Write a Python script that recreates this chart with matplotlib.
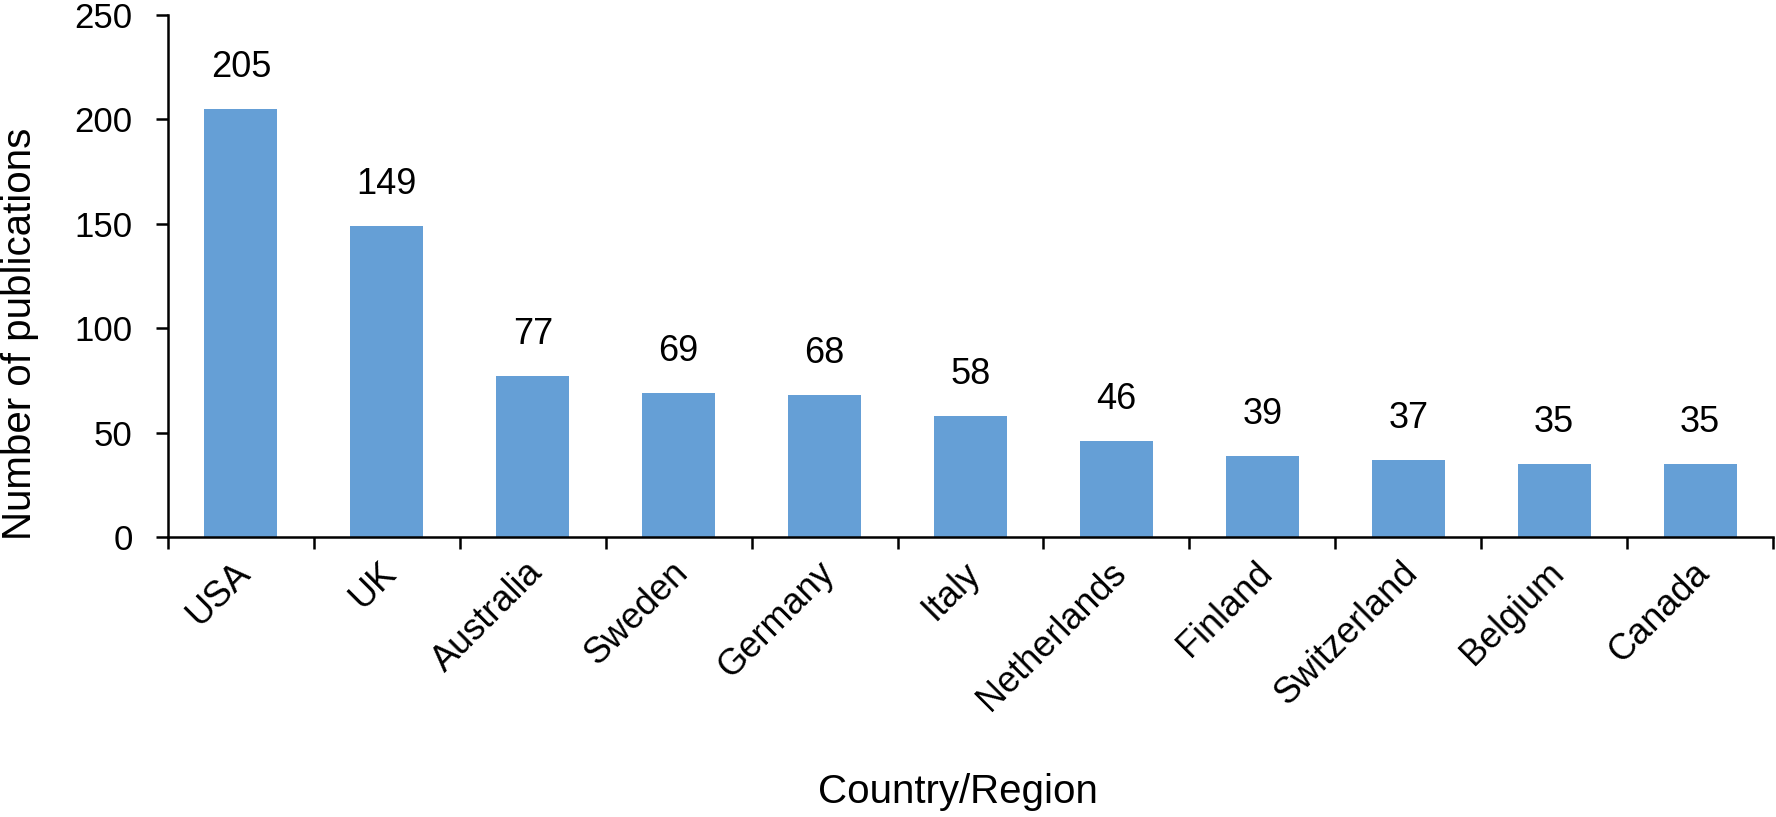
import matplotlib
matplotlib.use("Agg")
import matplotlib.pyplot as plt
import matplotlib.transforms as mtransforms
import numpy as np

countries = ["USA", "UK", "Australia", "Sweden", "Germany", "Italy",
             "Netherlands", "Finland", "Switzerland", "Belgium", "Canada"]
publications = [205, 149, 77, 69, 68, 58, 46, 39, 37, 35, 35]
y_ticks = [0, 50, 100, 150, 200, 250]
x_title = "Country/Region"
y_title = "Number of publications"

plt.rcParams['font.family'] = ['Liberation Sans', 'DejaVu Sans']

fig = plt.figure(figsize=(17.76, 8.17), dpi=100)
ax = fig.add_axes([168/1776, 1-537/817, (1773-168)/1776, (537-15)/817])

x = np.arange(len(countries))
ax.bar(x, publications, width=0.5, color='#659FD6')

for xi, v in zip(x, publications):
    ax.annotate(str(v), (xi, v), xytext=(0, 23), textcoords='offset points',
                ha='center', va='baseline', fontsize=26)

ax.set_xlim(-0.5, len(countries) - 0.5)
ax.set_ylim(0, 250)
ax.set_yticks(y_ticks)
ax.set_yticklabels([str(t) for t in y_ticks], fontsize=25)

ax.set_xticks(np.arange(len(countries) + 1) - 0.5)
ax.set_xticklabels([])
ax.set_xticks(x, minor=True)
ax.set_xticklabels(countries, minor=True, rotation=45, ha='right', va='top',
                   rotation_mode='anchor', fontsize=26)
ax.tick_params(axis='x', which='minor', length=0, pad=13)
ax.tick_params(axis='both', which='major', direction='out', length=8.5,
               width=1.8, color='black')
ax.tick_params(axis='y', pad=17)

offset = mtransforms.ScaledTranslation(-8/100, 0, fig.dpi_scale_trans)
for lbl in ax.get_xticklabels(minor=True):
    lbl.set_transform(lbl.get_transform() + offset)

for s in ['top', 'right']:
    ax.spines[s].set_visible(False)
for s in ['left', 'bottom']:
    ax.spines[s].set_linewidth(1.8)

fig.text(958/1776, 1-792/817, x_title, ha='center', va='center', fontsize=29)
fig.text(20/1776, 1-334/817, y_title, ha='center', va='center', rotation=90, fontsize=29)

fig.savefig("out.png", dpi=100)
